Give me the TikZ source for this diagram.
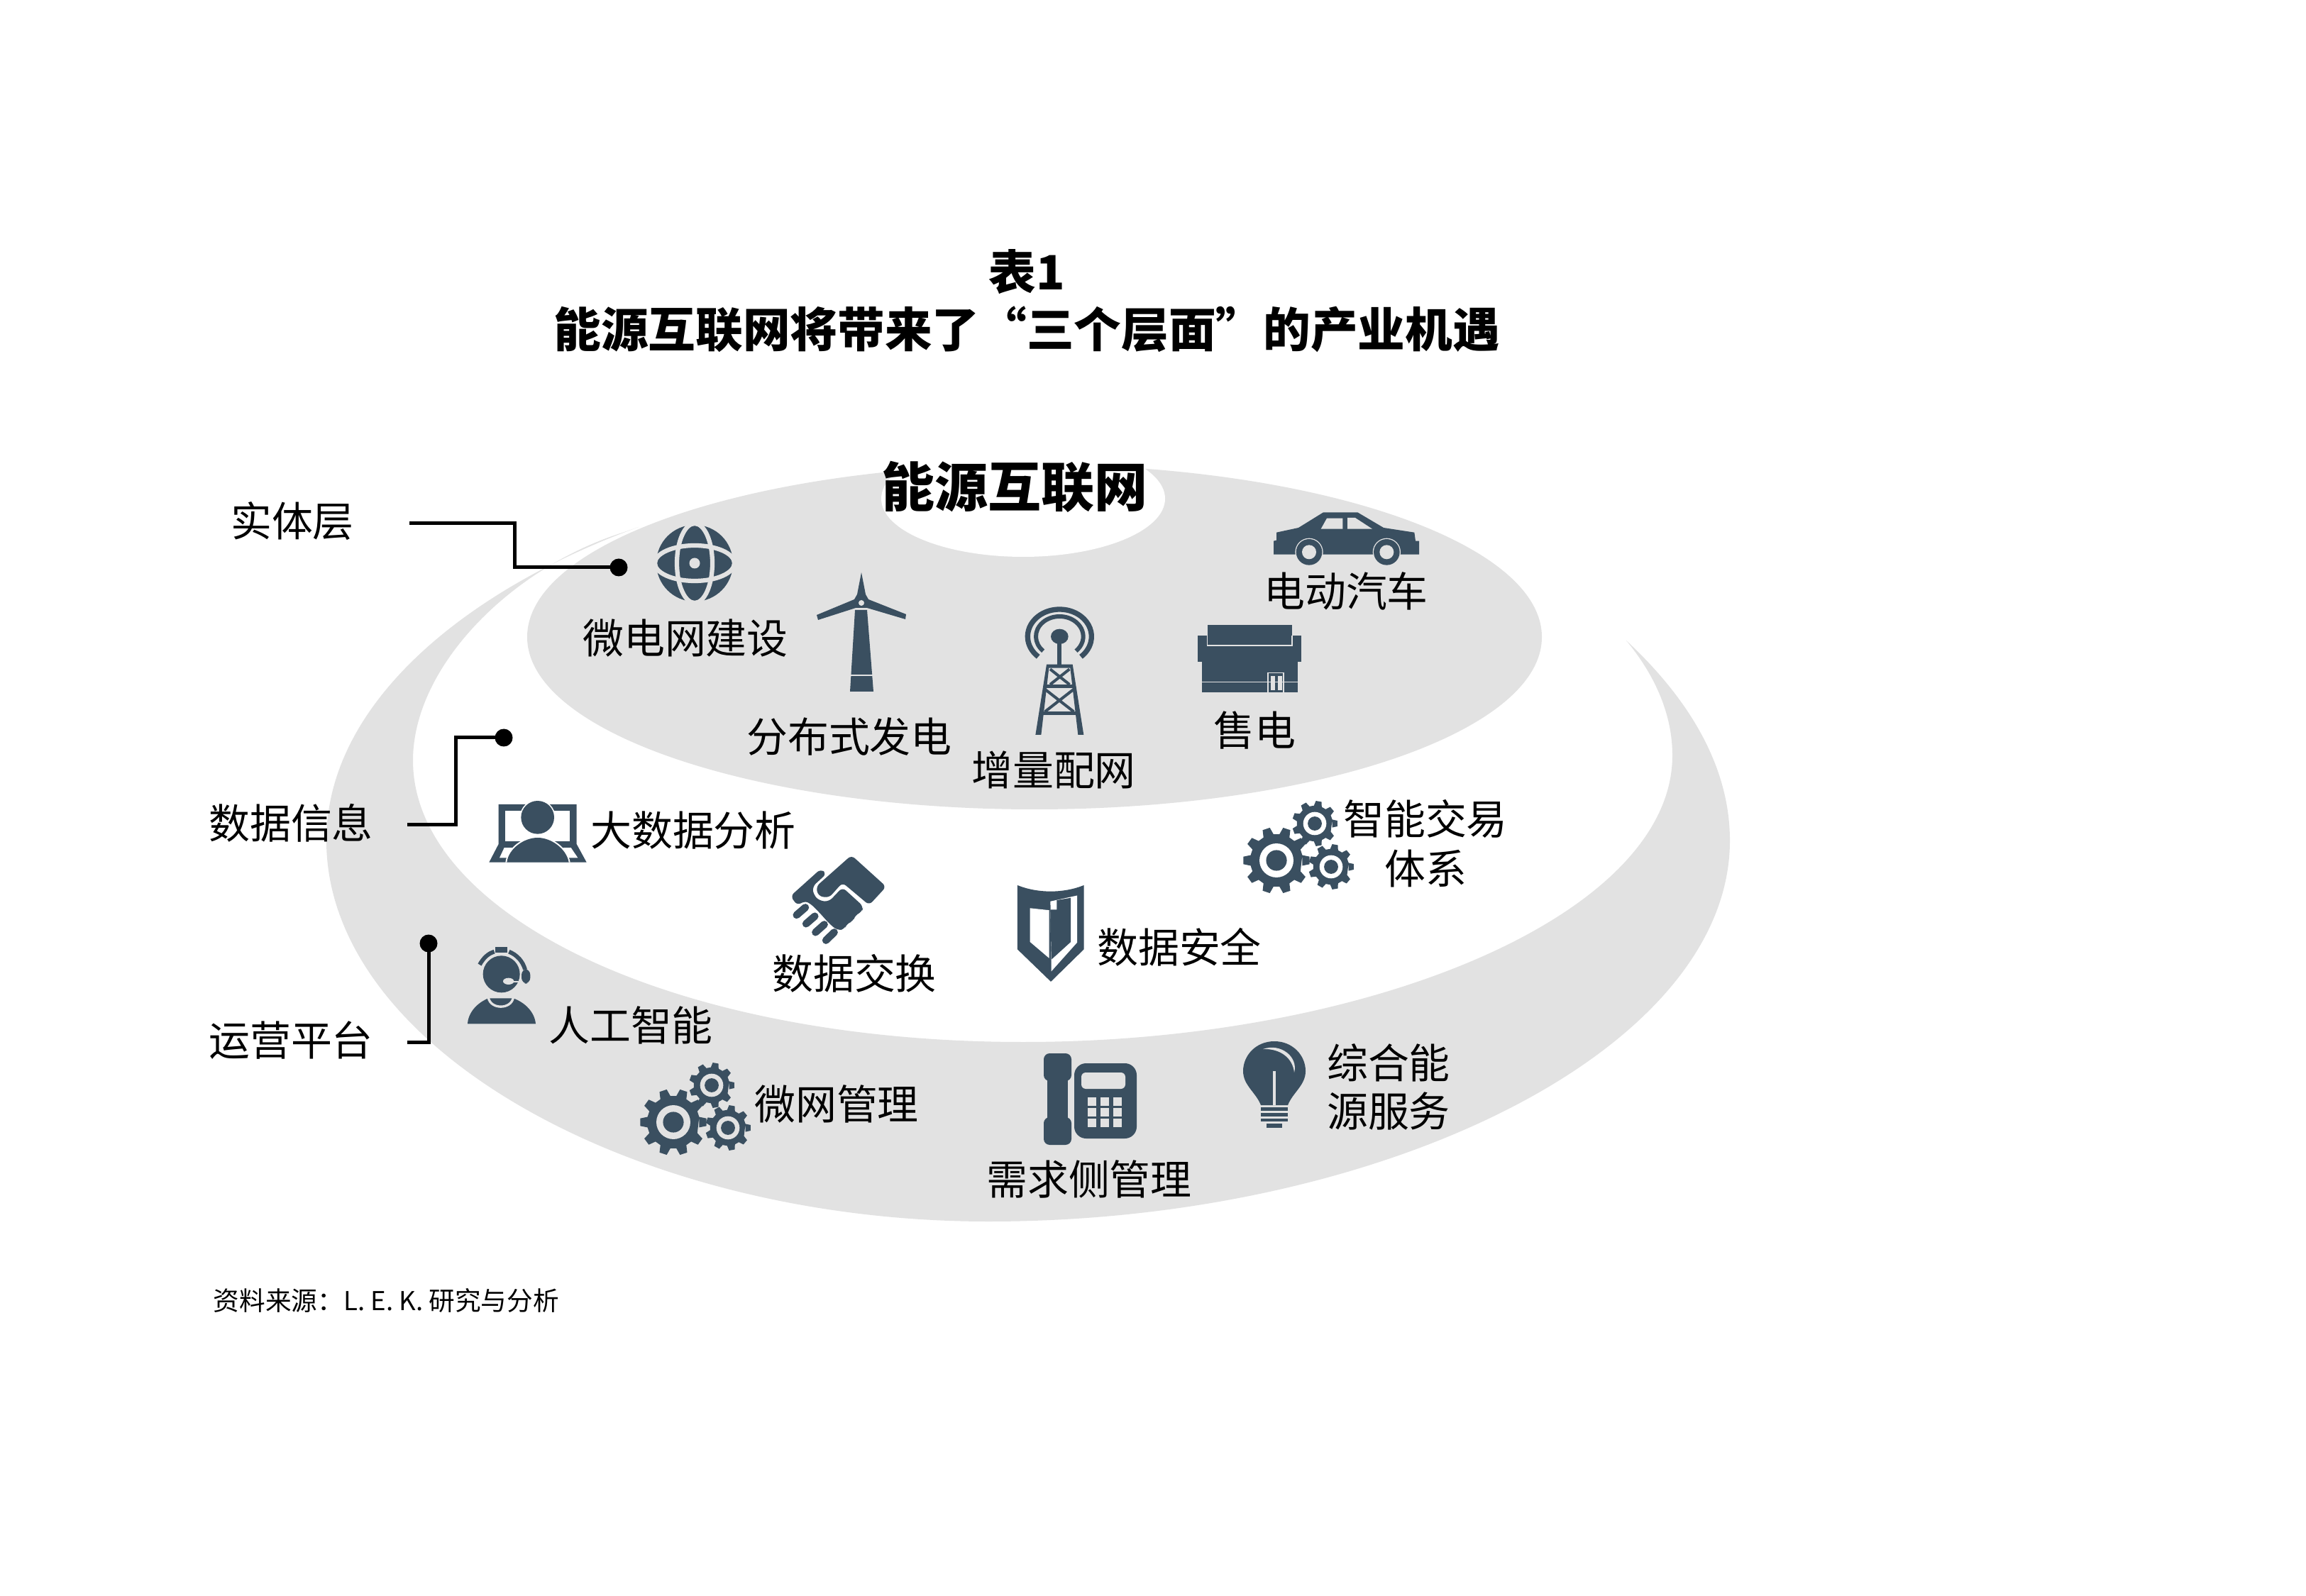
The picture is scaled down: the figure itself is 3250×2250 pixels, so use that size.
\documentclass[tikz,border=0pt]{standalone}
\usepackage{fontspec}
\setmainfont{Noto Sans CJK SC}
\definecolor{swoosh}{HTML}{E2E2E2}
\definecolor{iconc}{HTML}{3A4F60}
\tikzset{
  x=0.24pt,y=-0.24pt,
  lbl/.style={inner sep=0pt,text=black,font=\fontsize{13.9}{17}\selectfont},
  ttl/.style={inner sep=0pt,text=black,font=\fontsize{16}{19}\selectfont\bfseries},
  hub/.style={inner sep=0pt,text=black,font=\fontsize{18}{21}\selectfont\bfseries},
  src/.style={inner sep=0pt,text=black,font=\fontsize{8.8}{11}\selectfont,anchor=west},
  conn/.style={draw=black,line width=1.2pt,line join=miter},
  dotn/.style={circle,fill=black,inner sep=0pt,minimum size=6pt},
  ic/.style={fill=iconc,draw=none},
  zoomed/.style={shift={#1},x=0.08pt,y=-0.08pt},
}
\newcommand\gearicon[5]{%
  \fill[ic,shift={(#1,#2)}] ({-180/#4*0.64}:{0.79*#3})
    \foreach \i [evaluate=\i as \a using \i*360/#4] in {1,...,#4} {
      -- ({\a-180/#4*0.64}:{0.79*#3}) -- ({\a-180/#4*0.36}:#3) -- ({\a+180/#4*0.36}:#3) -- ({\a+180/#4*0.64}:{0.79*#3})
    } -- cycle;
  \fill[#5] (#1,#2) circle[radius={0.51*#3}];
  \fill[ic] (#1,#2) circle[radius={0.31*#3}];
}
\begin{document}
\begin{tikzpicture}
\useasboundingbox (0,0) rectangle (3250,2250);
\fill[white] (0,0) rectangle (3250,2250);
% swoosh
\fill[swoosh] (900,743) .. controls (660,830) and (460,990) .. (460,1185)
  .. controls (460,1480) and (900,1722) .. (1393,1722)
  .. controls (1950,1722) and (2438,1480) .. (2438,1185)
  .. controls (2438,1080) and (2380,985) .. (2292,903)
  .. controls (2335,955) and (2357,1010) .. (2357,1065)
  .. controls (2357,1290) and (1930,1469) .. (1442,1469)
  .. controls (950,1469) and (582,1290) .. (582,1072)
  .. controls (582,940) and (720,800) .. (880,750) -- cycle;
% upper disc
\fill[swoosh] (1458,898) ellipse[x radius=715,y radius=243];
\fill[white] (1442,703) ellipse[x radius=200,y radius=82];
% titles
\node[ttl] (t1) at (1447,383) {表1};
\node[ttl] (t2) at (1447,464) {能源互联网将带来了“三个层面”的产业机遇};
\node[hub] (hub) at (1430,686) {能源互联网};
% connectors
\node[lbl] (l1) at (412,735) {实体层};
\node[lbl] (l2) at (410,1160) {数据信息};
\node[lbl] (l3) at (410,1466) {运营平台};
\node[dotn] (d1) at (872,800) {};
\node[dotn] (d2) at (710,1040) {};
\node[dotn] (d3) at (604,1330) {};
\coordinate (s1) at (577,738);
\coordinate (s2) at (574,1163);
\coordinate (s3) at (574,1469);
\draw[conn] (s1) -- (725,738) |- (d1.center);
\draw[conn] (s2) -- (642,1163) |- (d2.center);
\draw[conn] (s3) -| (d3.center);
% labels
\node[lbl] (a1) at (966,900) {微电网建设};
\node[lbl] (a2) at (1197,1038) {分布式发电};
\node[lbl] (a3) at (1485,1085) {增量配网};
\node[lbl] (a4) at (1768,1029) {售电};
\node[lbl] (a5) at (1897,833) {电动汽车};
\node[lbl] (b1) at (977,1171) {大数据分析};
\node[lbl] (b2) at (1204,1372) {数据交换};
\node[lbl] (b3) at (1662,1335) {数据安全};
\node[lbl] (b4) at (2009,1154) {智能交易};
\node[lbl] (b5) at (2009,1225) {体系};
\node[lbl] (c1) at (889,1445) {人工智能};
\node[lbl] (c2) at (1179,1556) {微网管理};
\node[lbl] (c3) at (1535,1662) {需求侧管理};
\node[lbl] (c4) at (1957,1498) {综合能};
\node[lbl] (c5) at (1957,1566) {源服务};
\node[src] (src) at (300,1834) {资料来源：L. E. K. 研究与分析};
% globe
\fill[ic] (979,794) circle[radius=54];
\draw[swoosh,line width=1.5pt] (979,794) ellipse[x radius=56,y radius=25];
\draw[swoosh,line width=1.5pt] (979,794) ellipse[x radius=25,y radius=56];
\fill[swoosh] (979,794) circle[radius=7.5];
% turbine
\fill[ic] (1205,860) -- (1222,860) -- (1231,975) -- (1198,975) -- cycle;
\fill[ic] (1214,807) -- (1220,838) -- (1224,845) -- (1277,866) -- (1276,873) -- (1222,857) -- (1206,857) -- (1153,874) -- (1151,867) -- (1204,845) -- (1208,838) -- cycle;
\fill[swoosh] (1214,850) circle[radius=4];
\draw[swoosh,line width=0.5pt] (1198,952) -- (1231,952);
% antenna tower
\begin{scope}[zoomed={(1430,840)}]
\draw[iconc,line width=1.76pt] (190,172) ++(132:135 and 115) arc[start angle=132,end angle=408,x radius=135,y radius=115];
\draw[iconc,line width=1.44pt] (190,172) ++(134:100 and 85) arc[start angle=134,end angle=406,x radius=100,y radius=85];
\fill[ic] (190,172) ellipse[x radius=37,y radius=32];
\fill[ic] (181,172) rectangle (199,295);
\fill[ic] (135,290) -- (245,290) -- (292,588) -- (268,588) -- (235,305) -- (145,305) -- (112,588) -- (88,588) -- cycle;
\fill[ic] (124,375) rectangle (256,391);
\fill[ic] (112,489) rectangle (268,505);
\draw[iconc,line width=0.96pt] (150,310) -- (232,375) (232,310) -- (150,375)
  (128,395) -- (250,490) (250,395) -- (128,490);
\end{scope}
% store
\begin{scope}[zoomed={(1680,870)}]
\fill[ic] (65,33) rectangle (423,118);
\fill[ic] (25,78) rectangle (462,190);
\fill[ic] (42,190) rectangle (447,318);
\draw[swoosh,line width=0.35pt] (65,78) -- (65,120) -- (423,120) -- (423,78);
\draw[swoosh,line width=0.2pt] (42,273) -- (447,273);
\draw[swoosh,line width=0.35pt] (321,318) -- (321,236) -- (387,236) -- (387,318);
\fill[swoosh] (332,250) rectangle (350,310);
\fill[swoosh] (362,250) rectangle (380,310);
\end{scope}
% car
\begin{scope}[zoomed={(1780,710)}]
\fill[ic] (57,155) -- (57,122) -- (150,102) -- (255,37) -- (400,37) -- (510,102) -- (640,122) -- (645,158) -- (660,158) -- (660,215) -- (45,215) -- (45,158) -- cycle;
\fill[swoosh] (245,107) -- (270,62) -- (337,62) -- (337,107) -- cycle;
\fill[swoosh] (357,60) -- (390,60) -- (462,107) -- (357,107) -- cycle;
\fill[swoosh] (195,205) circle[radius=59];
\fill[swoosh] (523,205) circle[radius=59];
\fill[ic] (195,205) circle[radius=55];
\fill[ic] (523,205) circle[radius=55];
\fill[swoosh] (195,205) circle[radius=30];
\fill[swoosh] (523,205) circle[radius=30];
\end{scope}
% laptop person
\begin{scope}[zoomed={(680,1120)}]
\fill[ic] (68,42) -- (398,42) -- (398,210) -- (440,287) -- (28,287) -- (68,210) -- cycle;
\fill[white] (95,70) rectangle (370,197);
\fill[white] (92,225) -- (130,225) -- (105,268) -- (72,268) -- cycle;
\fill[white] (340,225) -- (374,225) -- (403,268) -- (362,268) -- cycle;
\fill[white] (233,97) circle[radius=75];
\fill[ic] (233,97) circle[radius=70];
\fill[white] (97,287) .. controls (105,225) and (170,178) .. (233,178) .. controls (296,178) and (360,225) .. (371,287) -- cycle;
\fill[ic] (103,287) .. controls (110,230) and (175,183) .. (233,183) .. controls (291,183) and (355,230) .. (365,287) -- cycle;
\end{scope}
% handshake
\begin{scope}[zoomed={(1100,1195)}]
\fill[ic,rounded corners=1.5pt] (300,32) -- (447,165) -- (375,243) -- (262,148) -- (205,212) -- (160,205) -- (150,165) -- cycle;
\fill[ic,rounded corners=1.5pt] (170,90) -- (195,110) -- (135,165) -- (140,200) -- (165,225) -- (205,228) -- (262,168) -- (350,248) -- (345,272) -- (315,285) -- (308,312) -- (280,320) -- (272,345) -- (240,350) -- (205,320) -- (165,275) -- (125,235) -- (100,225) -- (72,245) -- (42,205) -- cycle;
\draw[iconc,line width=2.5pt,line cap=round] (68,285) -- (105,253);
\draw[iconc,line width=2.5pt,line cap=round] (108,322) -- (145,290);
\draw[iconc,line width=2.5pt,line cap=round] (148,358) -- (185,325);
\draw[iconc,line width=2.5pt,line cap=round] (192,392) -- (227,358);
\end{scope}
% shield
\begin{scope}[shift={(1300,1100)},x={0.24pt/1.568},y={-0.24pt/2.412}]
\fill[ic] (210,357) .. controls (255,385) and (312,385) .. (357,357) -- (357,575) -- (284,685) -- (210,575) -- cycle;
\fill[white] (238,435) -- (280,442) -- (280,605) -- (238,550) -- cycle;
\fill[white] (283,412) -- (342,392) -- (342,552) -- (285,650) -- cycle;
\fill[ic] (283,440) -- (297,440) -- (297,408) -- (328,400) -- (328,550) -- (285,610) -- cycle;
\end{scope}
% gears
\gearicon{1799}{1213}{47}{10}{white}
\gearicon{1853}{1161}{32}{9}{white}
\gearicon{1876}{1222}{32}{9}{white}
\gearicon{949}{1582}{47}{10}{swoosh}
\gearicon{1003}{1530}{32}{9}{swoosh}
\gearicon{1026}{1590}{32}{9}{swoosh}
% agent
\begin{scope}[zoomed={(640,1320)}]
\fill[ic] (200,160) ellipse[x radius=78,y radius=78];
\draw[iconc,line width=1.4pt] (108,120) .. controls (125,90) and (145,72) .. (170,65);
\draw[iconc,line width=1.9pt] (175,58) -- (225,58);
\draw[iconc,line width=1.4pt] (232,65) .. controls (265,78) and (290,105) .. (300,140);
\fill[ic,rounded corners=2pt] (285,138) rectangle (322,200);
\fill[swoosh] (230,190) ellipse[x radius=23,y radius=14];
\draw[swoosh,line width=0.6pt] (245,192) -- (285,192);
\fill[ic] (57,370) .. controls (60,320) and (100,280) .. (145,262) -- (250,262) .. controls (300,280) and (340,320) .. (345,370) -- cycle;
\draw[swoosh,line width=0.8pt] (145,260) .. controls (155,310) and (240,310) .. (250,260);
\end{scope}
% phone
\fill[ic,rounded corners=2pt] (1471,1485) rectangle (1510,1524);
\fill[ic,rounded corners=2pt] (1471,1575) rectangle (1510,1614);
\fill[ic] (1476,1515) rectangle (1505,1585);
\fill[ic,rounded corners=4pt] (1514,1499) rectangle (1602,1605);
\fill[swoosh,rounded corners=1.5pt] (1524,1512) rectangle (1586,1535);
\foreach \bx in {1533,1551,1569} {
  \foreach \by in {1547,1562,1577} {
    \fill[swoosh] (\bx,\by) rectangle ++(12,12);
  }
}
% bulb
\fill[ic] (1796,1468) .. controls (1822,1468) and (1840,1488) .. (1840,1510) .. controls (1840,1530) and (1822,1540) .. (1815,1558) -- (1777,1558) .. controls (1770,1540) and (1752,1530) .. (1752,1510) .. controls (1752,1488) and (1770,1468) .. (1796,1468) -- cycle;
\draw[swoosh,line width=0.8pt] (1796,1510) -- (1796,1558);
\fill[swoosh] (1780,1479) .. controls (1805,1470) and (1830,1490) .. (1824,1512) .. controls (1822,1492) and (1805,1478) .. (1780,1479) -- cycle;
\fill[ic] (1777,1561) rectangle (1815,1566);
\fill[ic] (1777,1569) rectangle (1815,1574);
\fill[ic] (1777,1577) rectangle (1815,1581);
\fill[ic] (1785,1584) rectangle (1807,1590);
\end{tikzpicture}
\end{document}
